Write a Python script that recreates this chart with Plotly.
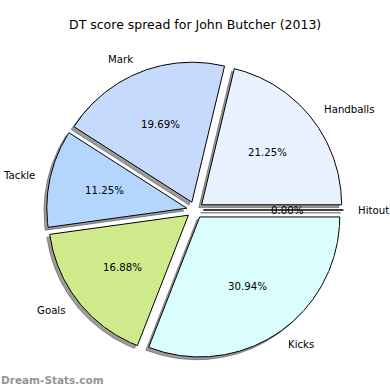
import numpy as np
import plotly.graph_objects as go

# ---- data ----
labels = ["Handballs", "Mark", "Tackle", "Goals", "Kicks", "Hitout"]
values = [21.25, 19.69, 11.25, 16.88, 30.94, 0.00]
colors = ["#EAF1FE", "#C6DAFE", "#B4D5FE", "#D0EA8B", "#DAFEFE", "#FFFFFF"]
title = "DT score spread for John Butcher (2013)"
watermark = "Dream-Stats.com"

EXPLODE = 0.06
SHADOW = (-0.02, -0.02)
LABEL_DIST = 1.1
PCT_DIST = 0.6

fig = go.Figure()
total = sum(values)
fracs = [v / total for v in values]

wedges = []
theta = 0.0
for lab, f, col in zip(labels, fracs, colors):
    t1, t2 = theta, theta + f * 360.0
    mid = np.deg2rad((t1 + t2) / 2)
    ox, oy = EXPLODE * np.cos(mid), EXPLODE * np.sin(mid)
    ang = np.deg2rad(np.linspace(t1, t2, max(2, int((t2 - t1) * 2) + 2)))
    xs = np.concatenate([[ox], ox + np.cos(ang), [ox]])
    ys = np.concatenate([[oy], oy + np.sin(ang), [oy]])
    wedges.append((lab, f, col, xs, ys, ox, oy, mid))
    theta = t2

# shadows first
for lab, f, col, xs, ys, ox, oy, mid in wedges:
    fig.add_trace(go.Scatter(x=xs + SHADOW[0], y=ys + SHADOW[1], mode="lines",
                             fill="toself", fillcolor="rgba(60,60,60,0.5)",
                             line=dict(color="rgba(60,60,60,0.5)", width=1),
                             hoverinfo="skip", showlegend=False))
# wedges
for lab, f, col, xs, ys, ox, oy, mid in wedges:
    fig.add_trace(go.Scatter(x=xs, y=ys, mode="lines", fill="toself", fillcolor=col,
                             line=dict(color="black", width=1),
                             hoverinfo="skip", showlegend=False))

annotations = []
for lab, f, col, xs, ys, ox, oy, mid in wedges:
    lx = ox + LABEL_DIST * np.cos(mid)
    ly = oy + LABEL_DIST * np.sin(mid)
    annotations.append(dict(x=lx, y=ly, text=lab, showarrow=False, borderpad=0,
                            xanchor="left" if lx > 0 else "right", yanchor="middle",
                            font=dict(family="DejaVu Sans", size=10.2, color="black")))
    px = ox + PCT_DIST * np.cos(mid)
    py = oy + PCT_DIST * np.sin(mid)
    annotations.append(dict(x=px, y=py, text="%.2f%%" % (f * 100), showarrow=False,
                            xanchor="center", yanchor="middle", borderpad=0,
                            font=dict(family="DejaVu Sans", size=10.2, color="black")))

annotations.append(dict(xref="paper", yref="paper", x=0.5, y=1 - 25 / 390, text=title,
                        showarrow=False, xanchor="center", yanchor="middle",
                        font=dict(family="DejaVu Sans", size=12.5, color="black")))
annotations.append(dict(xref="paper", yref="paper", x=0, y=1 - 380 / 390, text=watermark,
                        showarrow=False, xanchor="left", yanchor="middle", borderpad=0,
                        font=dict(family="DejaVu Sans", size=10.5, color="#949494", weight="bold")))

R = 140.0
cx, cy = 195.0, 210.0
fig.update_layout(
    width=390, height=390,
    margin=dict(l=0, r=0, t=0, b=0),
    paper_bgcolor="white", plot_bgcolor="white",
    xaxis=dict(range=[-cx / R, (390 - cx) / R], visible=False, fixedrange=True),
    yaxis=dict(range=[-(390 - cy) / R, cy / R], visible=False, fixedrange=True),
    annotations=annotations,
    showlegend=False,
)
fig.write_html("out.html")
